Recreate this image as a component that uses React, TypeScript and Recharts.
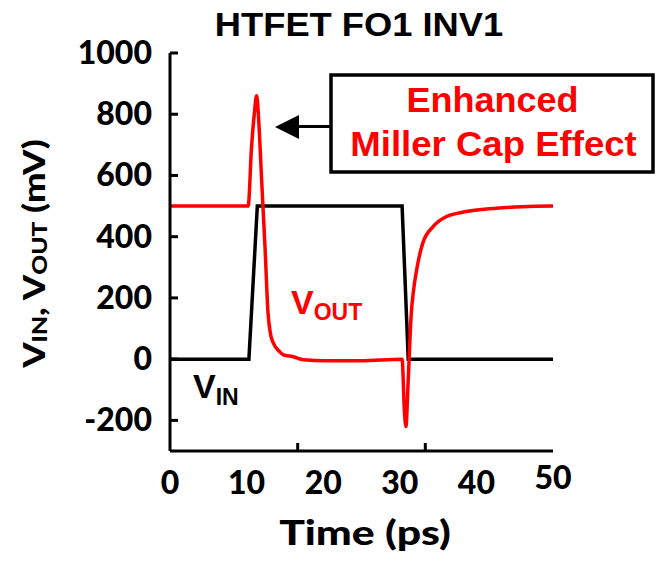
import React from "react";
import { LineChart, Line, XAxis, YAxis } from "recharts";

// ---- data ----
const timeIn = [0, 10.3, 11.4, 30.3, 31.1, 50];
const vIn = [0, 0, 500, 500, 0, 0];

const timeOut = [
  0, 10.2, 10.65, 11.0, 11.3, 11.65, 11.96, 12.4, 12.8, 13.1, 13.5, 14.3, 14.8,
  16.1, 17.4, 20.4, 24.8, 30.3, 30.6, 30.8, 31.1, 31.5, 31.8, 32.2, 33.0,
  34.35, 36.1, 38.7, 42.6, 46, 50,
];
const vOut = [
  500, 500, 695, 800, 860, 750, 586, 368, 150, 85, 52, 25, 14,
  8, -2, -5, -5, 0, -170, -220, -67, 150, 226, 292, 379,
  433, 466, 482, 493, 498, 500,
];

const xTickLabels = [0, 10, 20, 30, 40, 50];
const xTickMarks = [16.67, 33.33];
const yTicks = [-200, 0, 200, 400, 600, 800, 1000];
const rightTicks = [-100];

const inData = timeIn.map((t, i) => ({ t, v: vIn[i] }));
const outData = timeOut.map((t, i) => ({ t, v: vOut[i] }));
const xAllTicks = [...xTickLabels, ...xTickMarks].sort((a, b) => a - b);

const CAL = "Lato, 'Open Sans', sans-serif";
const ARIAL = "'Liberation Sans', Arial, sans-serif";
const AXW = 3;

const XTick = (props: any) => {
  const { x, y, payload } = props;
  const v = payload.value;
  if (xTickMarks.includes(v)) {
    return <line x1={x} x2={x} y1={y} y2={y - 8} stroke="#000" strokeWidth={AXW} />;
  }
  return (
    <text
      x={x}
      y={y + (v === 50 ? 38 : 43)}
      textAnchor="middle"
      fontFamily={CAL}
      fontWeight={900}
      fontSize={32}
      fill="#000"
    >
      {v}
    </text>
  );
};

const YTick = (props: any) => {
  const { x, y, payload } = props;
  return (
    <g>
      <line x1={x} x2={x + 8} y1={y} y2={y} stroke="#000" strokeWidth={AXW} />
      <text
        x={x - 18}
        y={y + 11}
        textAnchor="end"
        fontFamily={CAL}
        fontWeight={900}
        fontSize={32}
        fill="#000"
      >
        {payload.value}
      </text>
    </g>
  );
};

const RTick = (props: any) => {
  const { x, y } = props;
  return <line x1={x} x2={x - 8} y1={y} y2={y} stroke="#000" strokeWidth={AXW} />;
};

const axisLineStyle = { stroke: "#000", strokeWidth: AXW };

export default function App() {
  return (
    <div style={{ position: "absolute", left: 0, top: 0, width: 664, height: 562, background: "#fff" }}>
      <LineChart
        width={664}
        height={562}
        margin={{ top: 53, right: 111, bottom: 81, left: 0 }}
      >
        <XAxis
          dataKey="t"
          type="number"
          domain={[0, 50]}
          ticks={xAllTicks}
          interval={0}
          height={30}
          tickLine={false}
          tickSize={0}
          tickMargin={0}
          tick={<XTick />}
          stroke="#000"
          strokeWidth={AXW}
          axisLine={axisLineStyle}
          allowDataOverflow
        />
        <XAxis
          xAxisId="top"
          orientation="top"
          type="number"
          domain={[0, 50]}
          height={0}
          tick={false}
          tickLine={false}
          stroke="#000"
          strokeWidth={AXW}
          axisLine={axisLineStyle}
        />
        <YAxis
          type="number"
          domain={[-300, 1000]}
          ticks={yTicks}
          interval={0}
          width={170}
          tickSize={0}
          tickMargin={0}
          tickLine={false}
          tick={<YTick />}
          stroke="#000"
          strokeWidth={AXW}
          axisLine={axisLineStyle}
          allowDataOverflow
        />
        <YAxis
          yAxisId="right"
          orientation="right"
          type="number"
          domain={[-300, 1000]}
          ticks={rightTicks}
          interval={0}
          width={0}
          tickSize={0}
          tickMargin={0}
          tickLine={false}
          tick={<RTick />}
          stroke="#000"
          strokeWidth={AXW}
          axisLine={axisLineStyle}
        />
        <Line
          data={inData}
          dataKey="v"
          type="linear"
          stroke="#000"
          strokeWidth={3.5}
          dot={false}
          isAnimationActive={false}
        />
        <Line
          data={outData}
          dataKey="v"
          type="monotone"
          stroke="#ff0000"
          strokeWidth={3.5}
          dot={false}
          isAnimationActive={false}
        />
      </LineChart>
      <svg
        width={664}
        height={562}
        style={{ position: "absolute", left: 0, top: 0, pointerEvents: "none" }}
      >
        <text
          transform="translate(359,36) scale(1.1,1)"
          textAnchor="middle"
          fontFamily={ARIAL}
          fontWeight={700}
          fontSize={33}
          fill="#000"
        >
          HTFET FO1 INV1
        </text>
        {/* annotation */}
        <line x1={331} x2={296} y1={126.5} y2={126.5} stroke="#000" strokeWidth={3} />
        <polygon points="275,127 299,115 299,139" fill="#000" />
        <rect x={331} y={75} width={322} height={97} fill="#fff" stroke="#000" strokeWidth={3.5} />
        <text
          transform="translate(492.5,112) scale(1.03,1)"
          textAnchor="middle"
          fontFamily={ARIAL}
          fontWeight={700}
          fontSize={35}
          fill="#ff0000"
        >
          Enhanced
        </text>
        <text
          transform="translate(493.5,156) scale(1.045,1)"
          textAnchor="middle"
          fontFamily={ARIAL}
          fontWeight={700}
          fontSize={35}
          fill="#ff0000"
        >
          Miller Cap Effect
        </text>
        {/* series labels */}
        <text x={291} y={314} fontFamily={ARIAL} fontWeight={700} fontSize={34} fill="#ff0000">
          V<tspan fontSize={23} dy={6}>OUT</tspan>
        </text>
        <text x={193} y={398} fontFamily={ARIAL} fontWeight={700} fontSize={34} fill="#000">
          V<tspan fontSize={23} dy={7}>IN</tspan>
        </text>
        {/* axis titles */}
        <text
          transform="translate(365,545) scale(1.22,1)"
          textAnchor="middle"
          fontFamily={CAL}
          fontWeight={900}
          fontSize={35}
          fill="#000"
        >
          Time (ps)
        </text>
        <text
          transform="translate(45,253.5) rotate(-90) scale(1.17,1)"
          textAnchor="middle"
          fontFamily={CAL}
          fontWeight={900}
          fontSize={31}
          fill="#000"
        >
          V<tspan fontSize={21} dy={2}>IN</tspan>
          <tspan dy={-2}>, V</tspan>
          <tspan fontSize={21} dy={2}>OUT</tspan>
          <tspan dy={-2}> (mV)</tspan>
        </text>
      </svg>
    </div>
  );
}
